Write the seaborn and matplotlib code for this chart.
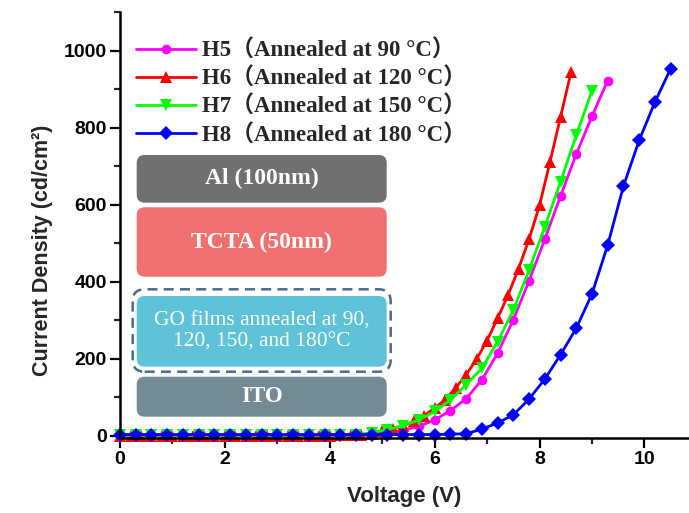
import matplotlib
matplotlib.use('Agg')
import matplotlib.pyplot as plt
from matplotlib.patches import FancyBboxPatch
from matplotlib.ticker import MultipleLocator
from matplotlib.font_manager import FontProperties
import seaborn as sns

# data
v_h5 = [0.0, 0.3, 0.6, 0.9, 1.2, 1.5, 1.8, 2.1, 2.4, 2.7, 3.0, 3.3, 3.6, 3.9, 4.2, 4.5,
        4.8, 5.1, 5.4, 5.7, 6.0, 6.3, 6.6, 6.9, 7.2, 7.5, 7.8, 8.1, 8.4, 8.7, 9.0, 9.3]
j_h5 = [1, 1, 1, 1, 1, 1, 1, 1, 1, 1, 1, 1, 1, 1, 1, 1,
        2, 7, 14, 24, 41, 65, 96, 145, 214, 301, 402, 510, 622, 731, 829, 922]

v_h6 = [0.0, 0.2, 0.4, 0.6, 0.8, 1.0, 1.2, 1.4, 1.6, 1.8, 2.0, 2.2, 2.4, 2.6, 2.8, 3.0,
        3.2, 3.4, 3.6, 3.8, 4.0, 4.2, 4.4, 4.6, 4.8, 5.0, 5.2, 5.4, 5.6, 5.8, 6.0, 6.2,
        6.4, 6.6, 6.8, 7.0, 7.2, 7.4, 7.6, 7.8, 8.0, 8.2, 8.4, 8.6]
j_h6 = [0, 0, 0, 0, 0, 0, 0, 0, 0, 0, 0, 0, 0, 0, 0, 0,
        0, 0, 0, 0, 0, 1, 2, 3, 5, 11, 17, 26, 37, 52, 72, 93,
        124, 158, 199, 247, 305, 365, 434, 510, 598, 711, 827, 944]

v_h7 = [0.0, 0.3, 0.6, 0.9, 1.2, 1.5, 1.8, 2.1, 2.4, 2.7, 3.0, 3.3, 3.6, 3.9, 4.2, 4.5,
        4.8, 5.1, 5.4, 5.7, 6.0, 6.3, 6.6, 6.9, 7.2, 7.5, 7.8, 8.1, 8.4, 8.7, 9.0]
j_h7 = [1, 1, 1, 1, 1, 1, 1, 1, 1, 1, 1, 1, 1, 1, 1, 2,
        8, 16, 26, 41, 63, 93, 132, 175, 244, 326, 430, 542, 659, 780, 896]

v_h8 = [0.0, 0.3, 0.6, 0.9, 1.2, 1.5, 1.8, 2.1, 2.4, 2.7, 3.0, 3.3, 3.6, 3.9, 4.2, 4.5,
        4.8, 5.1, 5.4, 5.7, 6.0, 6.3, 6.6, 6.9, 7.2, 7.5, 7.8, 8.1, 8.4, 8.7, 9.0, 9.3,
        9.6, 9.9, 10.2, 10.5]
j_h8 = [3, 3, 3, 3, 3, 3, 3, 3, 3, 3, 3, 3, 3, 3, 3, 3,
        3, 3, 3, 3, 3, 4, 5, 17, 33, 54, 95, 147, 210, 279, 368, 495,
        648, 767, 866, 953]

labels = ['H5（Annealed at 90 °C）', 'H6（Annealed at 120 °C）',
          'H7（Annealed at 150 °C）', 'H8（Annealed at 180 °C）']
colors = ['#ff00ff', '#ff0000', '#00ff00', '#0000ff']
markers = ['o', '^', 'v', 'D']
sizes = [7, 8, 8, 7]

sns.set_style('ticks')
plt.rcParams['font.family'] = ['Liberation Sans', 'DejaVu Sans']
plt.rcParams['font.weight'] = 'bold'

fig = plt.figure(figsize=(6.89, 5.13), dpi=100)
ax = fig.add_axes([0.1742, 0.1462, 0.8258, 0.8304])

series = [(v_h5, j_h5), (v_h6, j_h6), (v_h7, j_h7), (v_h8, j_h8)]
for (v, j), lab, c, m, ms in zip(series, labels, colors, markers, sizes):
    sns.lineplot(x=v, y=j, ax=ax, color=c, marker=m, markersize=ms,
                 markeredgewidth=0, linewidth=2, label=lab, clip_on=False, sort=False)

ax.set_xlim(0, 10.85)
ax.set_ylim(-6, 1100)
ax.xaxis.set_major_locator(MultipleLocator(2))
ax.xaxis.set_minor_locator(MultipleLocator(1))
ax.yaxis.set_major_locator(MultipleLocator(200))
ax.yaxis.set_minor_locator(MultipleLocator(100))
ax.tick_params(which='major', direction='out', length=7, width=1.6, labelsize=14,
               colors='black', pad=2.5)
ax.tick_params(which='minor', direction='out', length=4, width=1.6)
for side in ['top', 'right']:
    ax.spines[side].set_visible(False)
for side in ['left', 'bottom']:
    ax.spines[side].set_linewidth(1.8)
    ax.spines[side].set_color('black')

ax.set_xlabel('Voltage (V)', fontsize=16, fontweight='bold', labelpad=13)
ax.set_ylabel('Current Density (cd/cm²)', fontsize=15.5, fontweight='bold')
ax.yaxis.set_label_coords(-0.118, 0.44)

leg_font = FontProperties(family=['Liberation Serif', 'Noto Sans CJK SC'], weight='bold', size=16.5)
ax.legend(loc='upper left', bbox_to_anchor=(0.008, 0.962), frameon=False, prop=leg_font,
          borderpad=0, handlelength=2.6, handletextpad=0.3, labelspacing=0.27)

# device structure sketch (pixel positions -> inches)
def box(x0, y0, x1, y1, color, text, size, weight):
    w, h = (x1 - x0) / 100, (y1 - y0) / 100
    p = FancyBboxPatch((x0 / 100, (513 - y1) / 100), w, h,
                       boxstyle='round,pad=0,rounding_size=0.08',
                       transform=fig.dpi_scale_trans, facecolor=color,
                       edgecolor='none', zorder=5)
    fig.patches.append(p)
    fig.text((x0 + x1) / 200, (513 - (y0 + y1) / 2) / 100, text,
             transform=fig.dpi_scale_trans, ha='center', va='center',
             color='white', fontsize=size, fontweight=weight,
             family='Liberation Serif', zorder=6, linespacing=1.15)

outline = FancyBboxPatch((1.327, (513 - 371.7) / 100), 2.58, 0.824,
                         boxstyle='round,pad=0,rounding_size=0.12',
                         transform=fig.dpi_scale_trans, facecolor='white',
                         edgecolor='#4a6b8a', linewidth=1.8, linestyle=(0, (4, 2.5)), zorder=4)
fig.patches.append(outline)

box(136.7, 155, 386.7, 202.7, '#707070', 'Al (100nm)', 17, 'bold')
box(136.7, 207.3, 386.7, 276.7, '#f07070', 'TCTA (50nm)', 17, 'bold')
box(136.7, 296, 386.7, 366.7, '#5ec3d8', 'GO films annealed at 90,\n120, 150, and 180°C', 15.5, 'normal')
box(136.7, 376.7, 386.7, 416.7, '#748a95', 'ITO', 16.5, 'bold')

fig.savefig('out.png', dpi=100)
